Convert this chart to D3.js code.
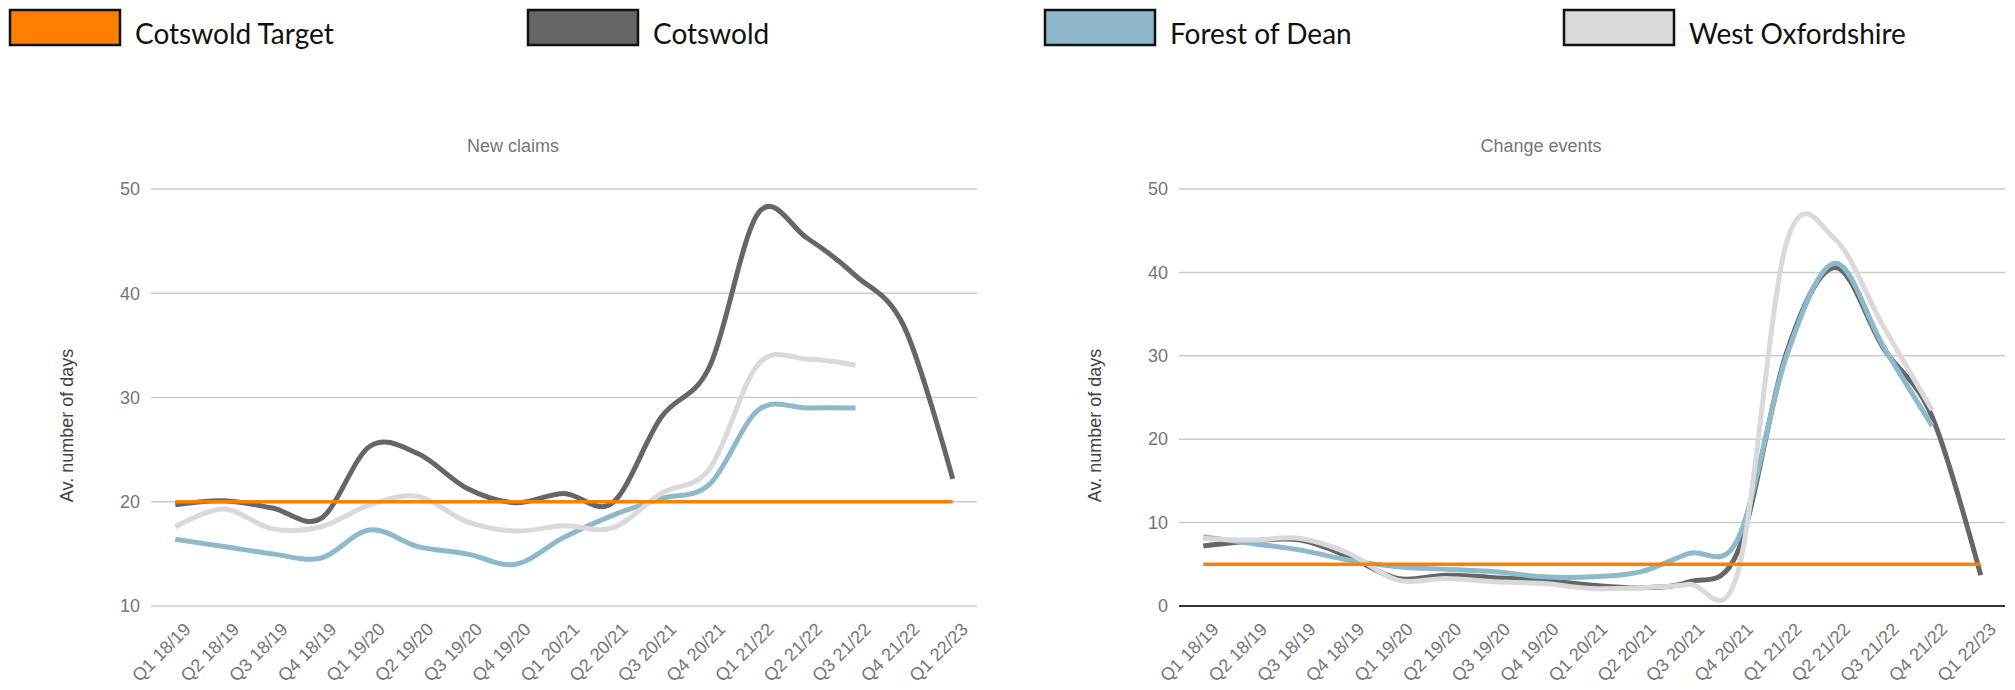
<!DOCTYPE html>
<html>
<head>
<meta charset="utf-8">
<script src="https://cdn.jsdelivr.net/npm/d3@7"></script>
<style>
  html, body { margin: 0; padding: 0; background: #fff; }
  svg { display: block; }
</style>
</head>
<body>
<svg id="chart" width="2015" height="690"></svg>
<script>
// ---------- data ----------
const categories = ["Q1 18/19","Q2 18/19","Q3 18/19","Q4 18/19","Q1 19/20","Q2 19/20","Q3 19/20","Q4 19/20",
  "Q1 20/21","Q2 20/21","Q3 20/21","Q4 20/21","Q1 21/22","Q2 21/22","Q3 21/22","Q4 21/22","Q1 22/23"];

const seriesNames = ["Cotswold Target", "Cotswold", "Forest of Dean", "West Oxfordshire"];
const seriesColors = ["#ff7f00", "#666666", "#8db9ca", "#d9d9d9"];

const claimsTarget   = [20,20,20,20,20,20,20,20,20,20,20,20,20,20,20,20,20];
const claimsCotswold = [19.7,20.1,19.4,18.4,25.3,24.6,21.3,19.9,20.8,19.9,28.1,33.0,47.7,45.3,41.7,36.8,22.2];
const claimsForest   = [16.4,15.7,15.0,14.6,17.3,15.7,15.0,14.0,16.6,18.7,20.3,21.7,28.8,29.0,29.0,null,null];
const claimsWest     = [17.6,19.3,17.4,17.6,19.7,20.5,18.1,17.2,17.7,17.5,20.8,23.2,33.2,33.7,33.1,null,null];

const changeTarget   = [5,5,5,5,5,5,5,5,5,5,5,5,5,5,5,5,5];
const changeCotswold = [7.2,7.8,7.9,5.9,3.3,3.7,3.4,3.1,2.5,2.2,2.9,6.5,30.3,40.6,30.9,22.7,3.7];
const changeForest   = [8.3,7.5,6.7,5.5,4.7,4.4,4.1,3.5,3.5,4.1,6.3,8.0,29.9,41.1,31.1,21.6,null];
const changeWest     = [8.1,7.9,8.1,6.3,3.1,3.3,2.9,2.7,2.1,2.2,2.6,4.0,43.5,44.0,33.5,23.5,null];

const claimsTicks = [10,20,30,40,50];
const changeTicks = [0,10,20,30,40,50];

// ---------- drawing ----------
const svg = d3.select("#chart");
const FONT = "Arial, 'Liberation Sans', sans-serif";

// legend
const legend = svg.append("g");
const legendX = [10, 528, 1045, 1564];
seriesNames.forEach((name, i) => {
  const g = legend.append("g").attr("transform", `translate(${legendX[i]},0)`);
  g.append("rect").attr("x", 0).attr("y", 10).attr("width", 110).attr("height", 35)
    .attr("fill", seriesColors[i]).attr("stroke", "#111").attr("stroke-width", 2.5);
  g.append("text").attr("x", 125).attr("y", 44).text(name)
    .attr("font-family", "Lato, 'Noto Sans', sans-serif").attr("font-size", 28).attr("fill", "#111");
});

function drawChart(opts) {
  const { left, right, top, bottom, domain, ticks, title, series } = opts;
  const g = svg.append("g");
  const x = d3.scaleBand().domain(categories).range([left, right]);
  const y = d3.scaleLinear().domain(domain).range([bottom, top]);
  const cx = c => x(c) + x.bandwidth() / 2;

  // gridlines
  g.append("g").selectAll("line").data(ticks).join("line")
    .attr("x1", left).attr("x2", right)
    .attr("y1", d => y(d)).attr("y2", d => y(d))
    .attr("stroke", d => d === 0 ? "#333" : "#cccccc")
    .attr("stroke-width", d => d === 0 ? 2 : 1.5);

  // y axis labels
  const yAxis = d3.axisLeft(y).tickValues(ticks).tickSize(0).tickPadding(11);
  const ya = g.append("g").attr("transform", `translate(${left},0)`).call(yAxis);
  ya.select(".domain").remove();
  ya.selectAll("text").attr("font-family", FONT).attr("font-size", 18).attr("fill", "#757575");

  // x axis labels
  const xa = g.append("g").attr("transform", `translate(0,${bottom})`)
    .call(d3.axisBottom(x).tickSize(0).tickPadding(0));
  xa.select(".domain").remove();
  xa.selectAll(".tick").attr("transform", d => `translate(${cx(d) + 12},20)`);
  xa.selectAll("text")
    .attr("font-family", FONT).attr("font-size", 18).attr("fill", "#757575")
    .attr("text-anchor", "end").attr("dy", "0.35em").attr("y", 0)
    .attr("transform", "rotate(-45)");

  // title
  g.append("text").attr("x", left + 362).attr("y", 152).attr("text-anchor", "middle")
    .attr("font-family", FONT).attr("font-size", 18).attr("fill", "#757575")
    .text(title);

  // y axis title
  g.append("text").attr("transform", `translate(${left - 78},${(top + bottom) / 2 + 28}) rotate(-90)`)
    .attr("text-anchor", "middle")
    .attr("font-family", FONT).attr("font-size", 18).attr("fill", "#444")
    .text("Av. number of days");

  // lines
  const line = d3.line()
    .defined(d => d.v != null)
    .x(d => cx(d.c)).y(d => y(d.v))
    .curve(d3.curveCardinal.tension(0));
  // draw order: Cotswold, Forest, West, Target on top
  const order = [1, 2, 3, 0];
  order.forEach(si => {
    const vals = series[si];
    const pts = categories.map((c, i) => ({ c, v: vals[i] }));
    g.append("path").attr("d", line(pts))
      .attr("fill", "none").attr("stroke", seriesColors[si])
      .attr("stroke-width", si === 0 ? 3.5 : 5)
      .attr("stroke-linejoin", "round").attr("stroke-linecap", "butt");
  });
}

drawChart({ left: 151, right: 977, top: 189, bottom: 606, domain: [10, 50], ticks: claimsTicks,
  title: "New claims", series: [claimsTarget, claimsCotswold, claimsForest, claimsWest] });
drawChart({ left: 1179, right: 2005, top: 189, bottom: 606, domain: [0, 50], ticks: changeTicks,
  title: "Change events", series: [changeTarget, changeCotswold, changeForest, changeWest] });
</script>
</body>
</html>
